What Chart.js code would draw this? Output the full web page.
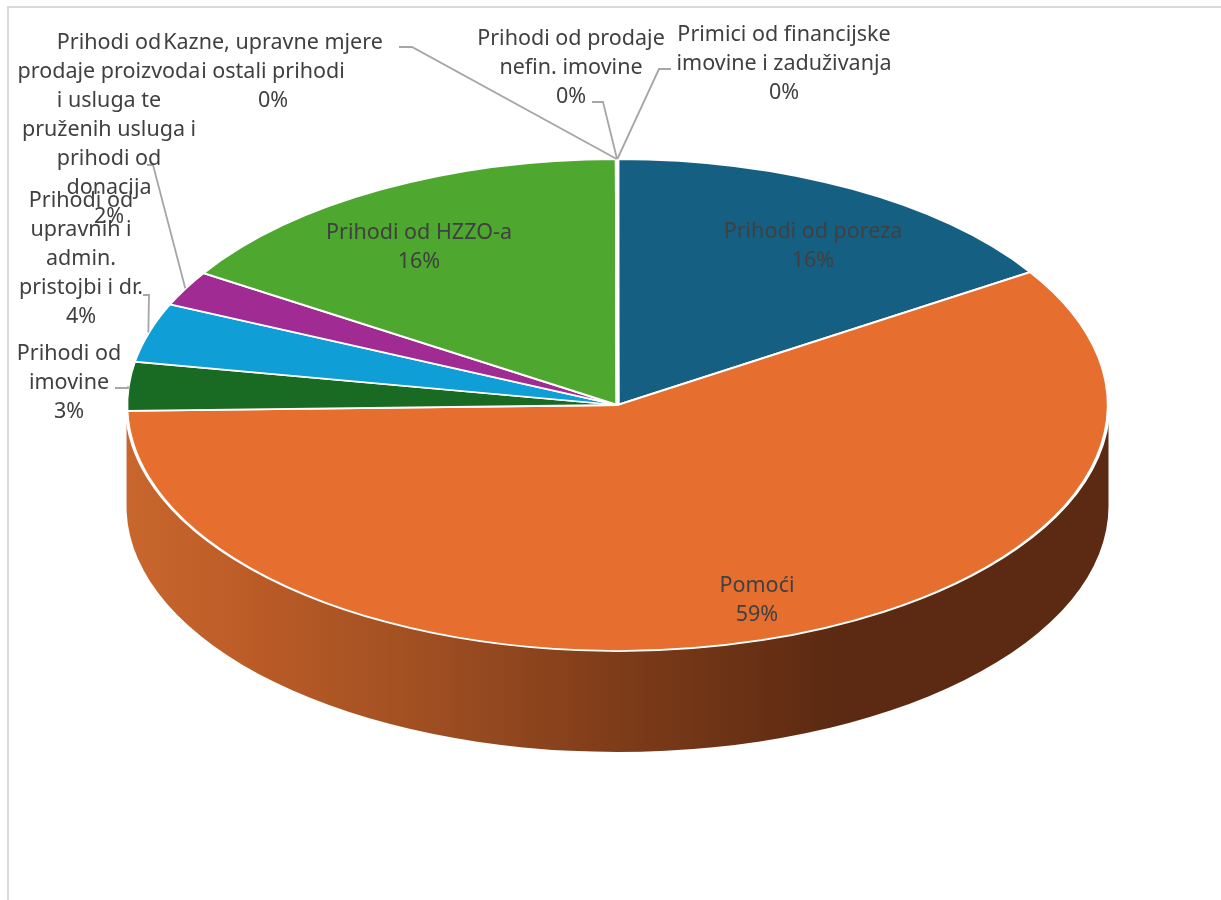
<!DOCTYPE html>
<html>
<head>
<meta charset="utf-8">
<title>Prihodi</title>
<script src="https://cdn.jsdelivr.net/npm/chart.js@4/dist/chart.umd.min.js"></script>
<style>
    html, body { margin: 0; padding: 0; background: #fff; overflow: hidden; }
    #frame { position: absolute; left: 7px; top: 6px; width: 1300px; height: 1000px; border: 2px solid #d9d9d9; }
    #pie { position: absolute; left: 0; top: 0; }
</style>
</head>
<body>
<div id="frame"></div>
<canvas id="pie" width="1221" height="900"></canvas>
<script>
// data (clockwise from 12 o'clock)
const categories = [
    "Prihodi od poreza",
    "Pomoći",
    "Prihodi od imovine",
    "Prihodi od upravnih i admin. pristojbi i dr.",
    "Prihodi od prodaje proizvoda i usluga te pruženih usluga i prihodi od donacija",
    "Prihodi od HZZO-a",
    "Kazne, upravne mjere i ostali prihodi",
    "Prihodi od prodaje nefin. imovine",
    "Primici od financijske imovine i zaduživanja"
];
const shares = [15.9, 58.7, 3.2, 3.9, 2.3, 15.95, 0.01, 0.01, 0.01];
const sliceColors = ["#156082", "#E66F30", "#196B24", "#0F9ED5", "#A02B93", "#4EA72E", "#A6CAEC", "#F4B183", "#8ED973"];

// how each label is broken into lines
const labelLines = [
    ["Prihodi od poreza"],
    ["Pomoći"],
    ["Prihodi od", "imovine"],
    ["Prihodi od", "upravnih i", "admin.", "pristojbi i dr."],
    ["Prihodi od", "prodaje proizvoda", "i usluga te", "pruženih usluga i", "prihodi od", "donacija"],
    ["Prihodi od HZZO-a"],
    ["Kazne, upravne mjere", "i ostali prihodi"],
    ["Prihodi od prodaje", "nefin. imovine"],
    ["Primici od financijske", "imovine i zaduživanja"]
];

// label placement: centre x, middle y of the first line
const labelBoxes = [
    [813, 232], [757, 586], [69, 354], [81, 201], [109, 43],
    [419, 233], [273, 43], [571, 39], [784, 35]
];
// leader start points (none for labels inside the pie)
const leaderStarts = [
    null, null,
    [[115, 388], [128, 388]],
    [[143, 295], [149, 295]],
    [[147, 165], [153, 165]],
    null,
    [[399, 47], [412, 47]],
    [[592, 102], [603, 102]],
    [[671, 69], [659, 69]]
];

const squash = 246 / 491;
const depth = 101;
const lineGap = 29;
const fontFamily = '"Noto Sans", sans-serif';

const pie3d = {
    id: "pie3d",
    beforeDatasetsDraw(chart) {
        const ctx = chart.ctx;
        const arcs = chart.getDatasetMeta(0).data;
        const cx = arcs[0].x, cy = arcs[0].y, rx = arcs[0].outerRadius, ry = rx * squash;

        const wall = ctx.createLinearGradient(cx - rx, 0, cx + rx, 0);
        wall.addColorStop(0, "#C8662D");
        wall.addColorStop(0.12, "#BC5C27");
        wall.addColorStop(0.3, "#A04F22");
        wall.addColorStop(0.5, "#7E3C19");
        wall.addColorStop(0.72, "#5C2A12");
        wall.addColorStop(1, "#5C2A12");

        // side wall only for the part of a slice facing the viewer
        arcs.forEach(function (arc) {
            const a = Math.max(arc.startAngle, 0);
            const b = Math.min(arc.endAngle, Math.PI);
            if (b <= a) return;
            ctx.beginPath();
            ctx.ellipse(cx, cy + depth, rx, ry, 0, a, b);
            ctx.ellipse(cx, cy, rx, ry, 0, b, a, true);
            ctx.closePath();
            ctx.fillStyle = wall;
            ctx.fill();
        });

        ctx.save();
        ctx.translate(0, cy);
        ctx.scale(1, squash);
        ctx.translate(0, -cy);
    },
    afterDatasetsDraw(chart) {
        chart.ctx.restore();
    },
    afterDraw(chart) {
        const ctx = chart.ctx;
        const arcs = chart.getDatasetMeta(0).data;
        const total = shares.reduce((s, v) => s + v, 0);

        ctx.save();
        // leaders end on the rim, at the middle of their slice
        ctx.strokeStyle = "#A6A6A6";
        ctx.lineWidth = 1.8;
        arcs.forEach(function (arc, i) {
            if (!leaderStarts[i]) return;
            const mid = (arc.startAngle + arc.endAngle) / 2;
            ctx.beginPath();
            ctx.moveTo(leaderStarts[i][0][0], leaderStarts[i][0][1]);
            ctx.lineTo(leaderStarts[i][1][0], leaderStarts[i][1][1]);
            ctx.lineTo(arc.x + Math.cos(mid) * arc.outerRadius, arc.y + Math.sin(mid) * arc.outerRadius * squash);
            ctx.stroke();
        });

        ctx.font = "21.5px " + fontFamily;
        ctx.fillStyle = "#404040";
        ctx.textAlign = "center";
        ctx.textBaseline = "middle";
        labelLines.forEach(function (lines, i) {
            const all = lines.concat(Math.round(shares[i] / total * 100) + "%");
            all.forEach(function (txt, k) {
                ctx.fillText(txt, labelBoxes[i][0], labelBoxes[i][1] + k * lineGap);
            });
        });
        ctx.restore();
    }
};

new Chart(document.getElementById("pie").getContext("2d"), {
    type: "pie",
    data: {
        labels: categories,
        datasets: [{
            data: shares,
            backgroundColor: sliceColors,
            borderColor: "#ffffff",
            borderWidth: 3.5,
            clip: false
        }]
    },
    options: {
        responsive: false,
        animation: false,
        devicePixelRatio: 1,
        radius: 491,
        layout: { padding: { left: 14, bottom: 90 } },
        plugins: { legend: { display: false }, tooltip: { enabled: false } }
    },
    plugins: [pie3d]
});
</script>
</body>
</html>
